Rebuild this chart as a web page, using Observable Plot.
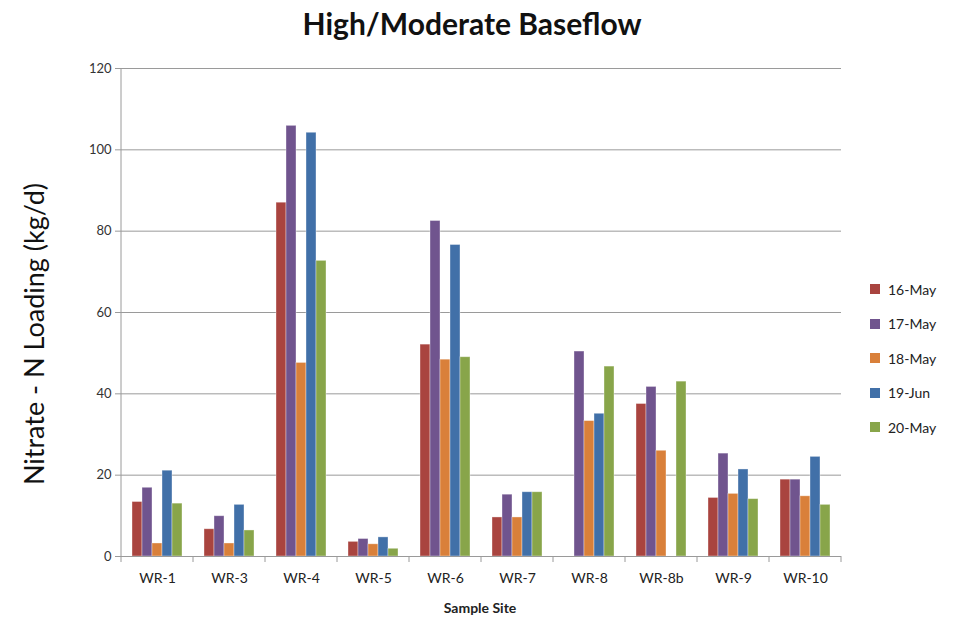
<!DOCTYPE html>
<html>
<head>
<meta charset="utf-8">
<script src="https://cdn.jsdelivr.net/npm/d3@7"></script>
<script src="https://cdn.jsdelivr.net/npm/@observablehq/plot@0.6"></script>
<style>
  body { margin: 0; background: #fff; font-family: Lato, "Open Sans", sans-serif; }
  #wrap { position: relative; width: 964px; height: 635px; }
  #title { position: absolute; left: 0; top: 5px; width: 944px; text-align: center; font-weight: bold; font-size: 30px; color: #111; }
  #chart { position: absolute; left: 0; top: 50px; }
  #ytitle { position: absolute; left: 33px; top: 334px; transform: translate(-50%, -50%) rotate(-90deg); white-space: nowrap; font-size: 27px; color: #111; }
  #xtitle { position: absolute; left: 480px; top: 599px; transform: translateX(-50%); font-weight: bold; font-size: 14px; color: #222; }
  #legend { position: absolute; left: 870px; top: 272px; font-size: 14px; color: #222; }
  .li { display: flex; align-items: center; height: 34.5px; }
  .sw { width: 10px; height: 10px; margin-right: 8px; }
</style>
</head>
<body>
<div id="wrap">
  <div id="title">High/Moderate Baseflow</div>
  <div id="chart"></div>
  <div id="ytitle">Nitrate - N Loading (kg/d)</div>
  <div id="xtitle">Sample Site</div>
  <div id="legend"></div>
</div>
<script>
const sites = ["WR-1","WR-3","WR-4","WR-5","WR-6","WR-7","WR-8","WR-8b","WR-9","WR-10"];
const seriesNames = ["16-May","17-May","18-May","19-Jun","20-May"];
const seriesColors = ["#A9443F","#70548E","#D9803A","#4170A8","#88A54A"];
const may16 = [13.4, 6.7, 87.0, 3.6, 52.1, 9.6, null, 37.5, 14.4, 18.9];
const may17 = [16.9, 9.9, 105.9, 4.3, 82.5, 15.2, 50.4, 41.7, 25.3, 18.9];
const may18 = [3.2, 3.2, 47.6, 3.0, 48.4, 9.6, 33.3, 26.0, 15.4, 14.8];
const jun19 = [21.1, 12.7, 104.2, 4.7, 76.6, 15.8, 35.1, null, 21.4, 24.5];
const may20 = [13.0, 6.4, 72.7, 1.9, 49.0, 15.8, 46.7, 43.0, 14.1, 12.7];
const yTicks = [0, 20, 40, 60, 80, 100, 120];

const seriesValues = [may16, may17, may18, jun19, may20];
const data = [];
sites.forEach((s, i) => seriesNames.forEach((n, j) => {
  const v = seriesValues[j][i];
  if (v != null) data.push({site: s, series: n, value: v});
}));

const plot = Plot.plot({
  width: 964,
  height: 585,
  marginTop: 18,
  marginBottom: 79,
  marginLeft: 118,
  marginRight: 121,
  style: {fontFamily: "Lato, 'Open Sans', sans-serif", fontSize: "13px", color: "#333"},
  fx: {domain: sites, padding: 0, label: null},
  x: {domain: seriesNames, paddingInner: 0, paddingOuter: 0.8, axis: null},
  y: {domain: [0, 120], label: null},
  color: {domain: seriesNames, range: seriesColors},
  marks: [
    Plot.gridY(yTicks, {stroke: "#9a9a9a", strokeOpacity: 1, strokeWidth: 1}),
    Plot.barY(data, {fx: "site", x: "series", y: "value", fill: "series", stroke: "#ffffff", strokeOpacity: 0.45, strokeWidth: 0.8}),
    Plot.ruleY([0], {stroke: "#9a9a9a"}),
    Plot.axisY(yTicks, {tickSize: 6, tickPadding: 4, stroke: "#9a9a9a", fill: "#333", fontSize: 13}),
    Plot.axisFx({anchor: "bottom", tickSize: 0, tickPadding: 17, fontSize: 14, fill: "#222", label: null})
  ]
});
document.getElementById("chart").appendChild(plot);

// Excel-style axis line and category separator ticks, using the plot's scales
const svg = d3.select(plot);
const fx = plot.scale("fx");
const y = plot.scale("y");
const y0 = y.apply(0), yTop = y.apply(120);
const left = fx.apply(sites[0]);
svg.append("line").attr("x1", left).attr("x2", left).attr("y1", yTop).attr("y2", y0).attr("stroke", "#9a9a9a");
const bounds = sites.map(s => fx.apply(s)).concat([fx.apply(sites[sites.length - 1]) + fx.bandwidth]);
svg.append("g").selectAll("line").data(bounds).join("line")
  .attr("x1", d => d).attr("x2", d => d).attr("y1", y0).attr("y2", y0 + 6).attr("stroke", "#9a9a9a");

const legend = document.getElementById("legend");
seriesNames.forEach((n, i) => {
  const li = document.createElement("div");
  li.className = "li";
  li.innerHTML = `<span class="sw" style="background:${seriesColors[i]}"></span>${n}`;
  legend.appendChild(li);
});
</script>
</body>
</html>
